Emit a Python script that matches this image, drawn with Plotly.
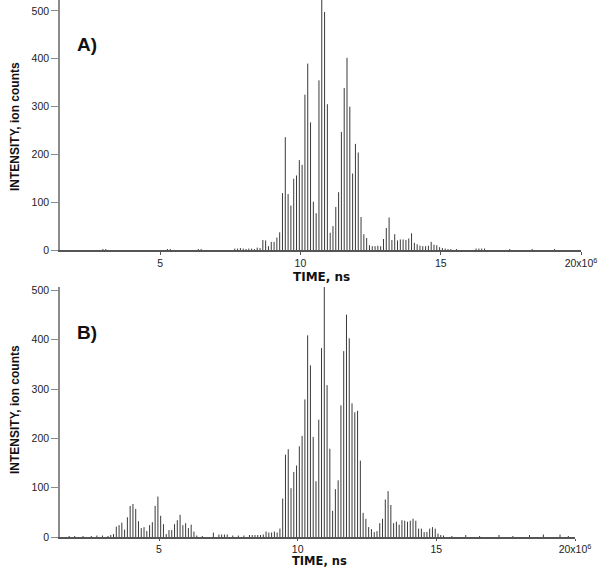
import plotly.graph_objects as go

# ── Data (time in units of 1e6 ns, intensity in ion counts) ──────────────
TIME_A = [
    2.96, 3.06, 5.26, 5.36, 6.36, 6.46, 7.66, 7.76, 7.86, 7.96, 8.06, 8.16, 8.26, 8.36, 8.46,
    8.56, 8.66, 8.76, 8.86, 8.96, 9.06, 9.16, 9.26, 9.36, 9.46, 9.56, 9.66, 9.76, 9.86, 9.96,
    10.06, 10.16, 10.26, 10.36, 10.46, 10.56, 10.66, 10.76, 10.86, 10.96,
    11.06, 11.16, 11.26, 11.36, 11.46, 11.56, 11.66, 11.76, 11.86, 11.96,
    12.06, 12.16, 12.26, 12.36, 12.46, 12.56, 12.66, 12.76, 12.86, 12.96,
    13.06, 13.16, 13.26, 13.36, 13.46, 13.56, 13.66, 13.76, 13.86, 13.96,
    14.06, 14.16, 14.26, 14.36, 14.46, 14.56, 14.66, 14.76, 14.86, 14.96,
    15.06, 15.16, 15.26, 15.36, 15.56, 16.26, 16.36, 16.46, 16.56, 17.46, 18.26, 19.06,
]
INTENSITY_A = [
    2, 2, 2, 2, 2, 2, 3, 3, 4, 3, 2, 3, 3, 2, 5,
    4, 21, 20, 8, 17, 17, 26, 37, 119, 236, 117, 93, 149, 156, 188,
    178, 325, 390, 267, 101, 77, 355, 530, 498, 305,
    36, 50, 90, 121, 247, 339, 402, 300, 160, 222,
    204, 69, 33, 25, 10, 8, 8, 9, 8, 23,
    46, 68, 21, 33, 20, 22, 22, 21, 24, 35,
    15, 12, 9, 8, 8, 9, 17, 11, 10, 6,
    4, 3, 2, 2, 2, 3, 3, 3, 3, 2, 2, 2,
]

TIME_B = [
    1.76, 1.96, 2.26, 2.56, 2.76, 2.96, 3.16, 3.26,
    3.36, 3.46, 3.56, 3.66, 3.76, 3.86, 3.96, 4.06, 4.16, 4.26,
    4.36, 4.46, 4.56, 4.66, 4.76, 4.86, 4.96, 5.06, 5.16, 5.26,
    5.36, 5.46, 5.56, 5.66, 5.76, 5.86, 5.96, 6.06, 6.16, 6.26, 6.36,
    6.56, 6.96, 7.16, 7.26, 7.36, 7.46, 7.66, 7.86, 8.06, 8.26, 8.36, 8.46, 8.56, 8.66, 8.76,
    8.86, 8.96, 9.06, 9.16, 9.26, 9.36, 9.46, 9.56, 9.66, 9.76, 9.86, 9.96,
    10.06, 10.16, 10.26, 10.36, 10.46, 10.56, 10.66, 10.76, 10.86, 10.96,
    11.06, 11.16, 11.26, 11.36, 11.46, 11.56, 11.66, 11.76, 11.86, 11.96,
    12.06, 12.16, 12.26, 12.36, 12.46, 12.56, 12.66, 12.76, 12.86, 12.96,
    13.06, 13.16, 13.26, 13.36, 13.46, 13.56, 13.66, 13.76, 13.86, 13.96,
    14.06, 14.16, 14.26, 14.36, 14.46, 14.56, 14.66, 14.76, 14.86, 14.96,
    15.06, 15.16, 15.26, 15.56, 16.06, 16.56, 17.26, 17.76, 18.36, 18.86, 19.46, 19.76,
]
INTENSITY_B = [
    2, 2, 2, 2, 3, 3, 2, 4,
    6, 21, 24, 29, 15, 40, 63, 67, 57, 32,
    18, 20, 12, 24, 30, 63, 82, 43, 26, 6,
    14, 14, 26, 34, 45, 24, 28, 18, 25, 11, 3,
    2, 9, 5, 5, 5, 5, 3, 3, 3, 4, 4, 4, 4, 4, 5,
    11, 9, 9, 11, 9, 17, 78, 167, 178, 99, 132, 145,
    184, 205, 279, 409, 348, 203, 113, 238, 383, 509,
    308, 179, 53, 97, 115, 267, 377, 451, 403, 271,
    253, 256, 155, 49, 37, 20, 16, 10, 12, 28,
    37, 76, 93, 65, 28, 31, 25, 34, 33, 31,
    33, 37, 33, 17, 17, 10, 10, 17, 20, 17,
    7, 4, 3, 2, 4, 2, 4, 2, 4, 5, 5, 2,
]

X_TICKS = [5, 10, 15, 20]
X_TICKTEXT = ["5", "10", "15", "20x10<sup>6</sup>"]
Y_TICKS = [0, 100, 200, 300, 400, 500]

STICK_COLOR = "#3a3a3a"
AXIS_GRAY = "#8a8a8a"
TEXT_COLOR = "#222222"
TICK_FONT = dict(family="Liberation Sans, Arial, sans-serif", size=10.5, color=TEXT_COLOR)


def sticks(times, values):
    """Turn a stick spectrum into one polyline broken by None gaps."""
    xs, ys = [], []
    for t, v in zip(times, values):
        xs += [t * 1e6, t * 1e6, None]
        ys += [0, v, None]
    return xs, ys


xa, ya = sticks(TIME_A, INTENSITY_A)
xb, yb = sticks(TIME_B, INTENSITY_B)

fig = go.Figure()
fig.add_trace(go.Scatter(x=xa, y=ya, mode="lines", xaxis="x", yaxis="y",
                         line=dict(color=STICK_COLOR, width=1), hoverinfo="skip"))
fig.add_trace(go.Scatter(x=xb, y=yb, mode="lines", xaxis="x2", yaxis="y2",
                         line=dict(color=STICK_COLOR, width=1), hoverinfo="skip"))

xaxis_common = dict(
    range=[1.43e6, 20e6],
    tickvals=[v * 1e6 for v in X_TICKS], ticktext=X_TICKTEXT,
    showline=True, linecolor="#555555", linewidth=1.5,
    ticks="outside", tickcolor="#555555", tickwidth=1,
    showgrid=False, zeroline=False, tickfont=TICK_FONT, automargin=False,
)
yaxis_common = dict(
    tickvals=Y_TICKS,
    showline=True, linecolor=AXIS_GRAY, linewidth=1.5,
    ticks="outside", ticklen=7, tickcolor=AXIS_GRAY, tickwidth=1,
    showgrid=False, zeroline=False, tickfont=TICK_FONT, automargin=False,
)

W, H = 601, 568
fig.update_layout(
    width=W, height=H,
    margin=dict(l=0, r=0, t=0, b=0),
    paper_bgcolor="white", plot_bgcolor="white",
    showlegend=False,
    xaxis=dict(**xaxis_common, ticklen=3, domain=[60 / W, 581 / W], anchor="y"),
    yaxis=dict(**yaxis_common, range=[0, 523], domain=[1 - 250 / H, 1.0], anchor="x"),
    xaxis2=dict(**xaxis_common, ticklen=2, domain=[60 / W, 575 / W], anchor="y2"),
    yaxis2=dict(**yaxis_common, range=[0, 507], domain=[1 - 537 / H, 1 - 287 / H], anchor="x2"),
)

label_font = dict(family="Liberation Sans, Arial, sans-serif", size=19, color="#111111")
title_font = dict(family="DejaVu Sans, sans-serif", size=12, color="#111111")
ytitle_font = dict(family="Liberation Sans, Arial, sans-serif", size=12, color="#111111")

annotations = [
    dict(text="<b>A)</b>", x=87 / W, y=1 - 44 / H, font=label_font),
    dict(text="<b>B)</b>", x=87 / W, y=1 - 332 / H, font=label_font),
    dict(text="<b>TIME, ns</b>", x=321 / W, y=1 - 277 / H, font=title_font),
    dict(text="<b>TIME, ns</b>", x=319 / W, y=1 - 561 / H,
         font=dict(title_font, size=11.5)),
    dict(text="<b>INTENSITY, ion counts</b>", x=15 / W, y=1 - 127 / H,
         textangle=-90, font=ytitle_font),
    dict(text="<b>INTENSITY, ion counts</b>", x=15 / W, y=1 - 410 / H,
         textangle=-90, font=ytitle_font),
]
for a in annotations:
    fig.add_annotation(xref="paper", yref="paper", showarrow=False,
                       xanchor="center", yanchor="middle", borderpad=0, **a)

# the page body has a default 8px margin; drop it so the figure sits at 0,0
fig.write_html("out.html", config={"displayModeBar": False},
               post_script="document.body.style.margin = '0';")
